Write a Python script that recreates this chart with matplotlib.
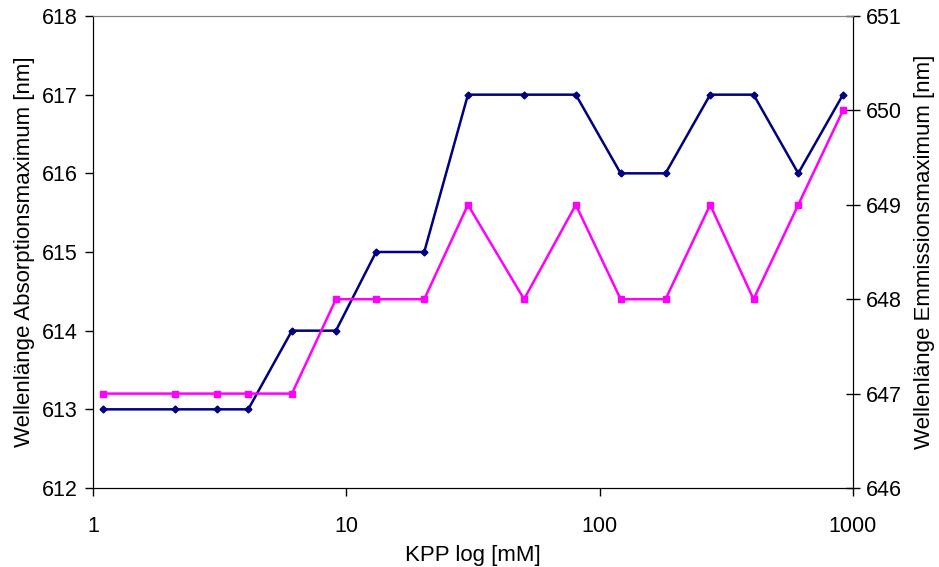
import matplotlib
matplotlib.use("Agg")
import matplotlib.pyplot as plt
from matplotlib.ticker import FixedLocator, FixedFormatter, NullLocator

plt.rcParams['font.family'] = ['Liberation Sans', 'DejaVu Sans']

kpp = [1.1, 2.1, 3.1, 4.1, 6.1, 9.1, 13.1, 20.3, 30.2, 50.3, 80.5, 121, 182, 273, 405, 608, 913]
absorption = [613, 613, 613, 613, 614, 614, 615, 615, 617, 617, 617, 616, 616, 617, 617, 616, 617]
emission = [647, 647, 647, 647, 647, 648, 648, 648, 649, 648, 649, 648, 648, 649, 648, 649, 650]
x_ticks = [1, 10, 100, 1000]
x_labels = ["1", "10", "100", "1000"]

fig = plt.figure(figsize=(9.39, 5.67), dpi=100)
ax = fig.add_axes([93/939, 1-488/567, (853-93)/939, (488-16)/567])
ax2 = ax.twinx()

ax.plot(kpp, absorption, color='#000080', lw=1.8, marker='D', ms=3.5, zorder=3)
ax2.plot(kpp, emission, color='#FF00FF', lw=1.8, marker='s', ms=5, zorder=2)

ax.set_xscale('log')
ax.set_xlim(1, 1000)
ax.xaxis.set_major_locator(FixedLocator(x_ticks))
ax.xaxis.set_major_formatter(FixedFormatter(x_labels))
ax.xaxis.set_minor_locator(NullLocator())
ax.set_ylim(612, 618)
ax.set_yticks(range(612, 619))
ax2.set_ylim(646, 651)
ax2.set_yticks(range(646, 652))

fs = 15.5
lfs = 16
ax.tick_params(axis='both', direction='out', length=6, width=1, labelsize=fs, pad=5)
ax.tick_params(axis='x', pad=14)
ax2.tick_params(axis='y', direction='inout', length=10, width=1, labelsize=fs, pad=4)

ax.set_xlabel('KPP log [mM]', fontsize=lfs, labelpad=6)
ax.set_ylabel('Wellenlänge Absorptionsmaximum [nm]', fontsize=lfs, labelpad=5)
ax2.set_ylabel('Wellenlänge Emmissionsmaximum [nm]', fontsize=lfs, labelpad=9)

for a in (ax, ax2):
    a.spines['top'].set_color('#808080')
    a.spines['left'].set_color('black')
    a.spines['right'].set_color('black')
    a.spines['bottom'].set_color('black')

fig.savefig('out.png', dpi=100)
